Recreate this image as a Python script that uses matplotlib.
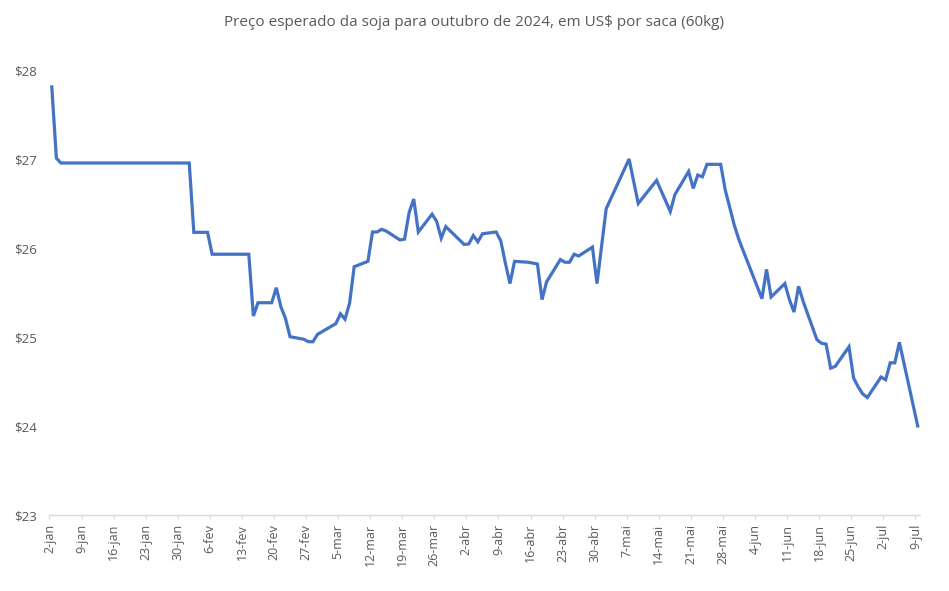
import pandas as pd
import matplotlib
matplotlib.use('Agg')
import matplotlib.pyplot as plt

# vertices of the line (dates where the price changes direction/level)
dates = ['2024-01-02', '2024-01-03', '2024-01-04', '2024-02-01', '2024-02-02', '2024-02-05',
         '2024-02-06', '2024-02-14', '2024-02-15', '2024-02-16', '2024-02-19', '2024-02-20',
         '2024-02-21', '2024-02-22', '2024-02-23', '2024-02-26', '2024-02-27', '2024-02-28',
         '2024-02-29', '2024-03-01', '2024-03-04', '2024-03-05', '2024-03-06', '2024-03-07',
         '2024-03-08', '2024-03-11', '2024-03-12', '2024-03-13', '2024-03-14', '2024-03-15',
         '2024-03-18', '2024-03-19', '2024-03-20', '2024-03-21', '2024-03-22', '2024-03-25',
         '2024-03-26', '2024-03-27', '2024-03-28', '2024-04-01', '2024-04-02', '2024-04-03',
         '2024-04-04', '2024-04-05', '2024-04-08', '2024-04-09', '2024-04-10', '2024-04-11',
         '2024-04-12', '2024-04-15', '2024-04-16', '2024-04-17', '2024-04-18', '2024-04-19',
         '2024-04-22', '2024-04-23', '2024-04-24', '2024-04-25', '2024-04-26', '2024-04-29',
         '2024-04-30', '2024-05-02', '2024-05-07', '2024-05-09', '2024-05-13', '2024-05-16',
         '2024-05-17', '2024-05-20', '2024-05-21', '2024-05-22', '2024-05-23', '2024-05-24',
         '2024-05-27', '2024-05-28', '2024-05-29', '2024-05-30', '2024-05-31', '2024-06-05',
         '2024-06-06', '2024-06-07', '2024-06-10', '2024-06-11', '2024-06-12', '2024-06-13',
         '2024-06-14', '2024-06-17', '2024-06-18', '2024-06-19', '2024-06-20', '2024-06-21',
         '2024-06-24', '2024-06-25', '2024-06-26', '2024-06-27', '2024-06-28', '2024-07-01',
         '2024-07-02', '2024-07-03', '2024-07-04', '2024-07-05', '2024-07-09']
prices = [27.81, 27.01, 26.955, 26.955, 26.176, 26.176,
          25.93, 25.93, 25.236, 25.385, 25.385, 25.554,
          25.34, 25.21, 25.003, 24.975, 24.947, 24.947,
          25.03, 25.06, 25.15, 25.26, 25.20, 25.38,
          25.79, 25.85, 26.18, 26.18, 26.21, 26.19,
          26.09, 26.10, 26.40, 26.55, 26.18, 26.38,
          26.30, 26.11, 26.24, 26.04, 26.045, 26.14,
          26.07, 26.16, 26.18, 26.08, 25.83, 25.60,
          25.85, 25.84, 25.83, 25.82, 25.42, 25.62,
          25.87, 25.84, 25.84, 25.93, 25.91, 26.01,
          25.60, 26.44, 27.00, 26.50, 26.76, 26.41,
          26.60, 26.86, 26.67, 26.82, 26.80, 26.94,
          26.94, 26.65, 26.45, 26.25, 26.09, 25.43,
          25.76, 25.45, 25.60, 25.42, 25.28, 25.57,
          25.40, 24.97, 24.93, 24.92, 24.65, 24.67,
          24.89, 24.54, 24.44, 24.36, 24.32, 24.55,
          24.52, 24.71, 24.71, 24.94, 24.00]

tick_dates = pd.date_range('2024-01-02', '2024-07-09', freq='7D')
tick_labels = ['2-jan', '9-jan', '16-jan', '23-jan', '30-jan', '6-fev', '13-fev', '20-fev',
               '27-fev', '5-mar', '12-mar', '19-mar', '26-mar', '2-abr', '9-abr', '16-abr',
               '23-abr', '30-abr', '7-mai', '14-mai', '21-mai', '28-mai', '4-jun', '11-jun',
               '18-jun', '25-jun', '2-jul', '9-jul']
y_ticks = [23, 24, 25, 26, 27, 28]

plt.rcParams['font.family'] = ['Open Sans', 'DejaVu Sans']
txt = '#595959'

fig = plt.figure(figsize=(9.49, 5.91), dpi=100)
ax = fig.add_axes([49.5/949, 1-515/591, 870.5/949, 445/591])
# Excel date axis puts each point in the middle of its day
x = pd.to_datetime(dates) + pd.Timedelta(hours=12)
ax.plot(x, prices, color='#4472C4', lw=2.3, solid_joinstyle='miter')

ax.set_xlim(pd.Timestamp('2024-01-02'), pd.Timestamp('2024-07-10'))
ax.set_ylim(23, 28)
ax.set_xticks(tick_dates)
ax.set_xticklabels(tick_labels, rotation=90, fontsize=9, color=txt)
ax.set_yticks(y_ticks)
ax.set_yticklabels([f'${v}' for v in y_ticks], fontsize=9.5, color=txt)
ax.tick_params(axis='y', length=0, pad=9)
ax.tick_params(axis='x', length=3, color='#D9D9D9', pad=3.5)
for s in ['top', 'right', 'left']:
    ax.spines[s].set_visible(False)
ax.spines['bottom'].set_color('#D9D9D9')
ax.spines['bottom'].set_linewidth(1)

fig.text(0.5, 1-22/591, 'Preço esperado da soja para outubro de 2024, em US$ por saca (60kg)',
         ha='center', va='center', fontsize=11, color=txt)

fig.savefig('out.png', dpi=100)
